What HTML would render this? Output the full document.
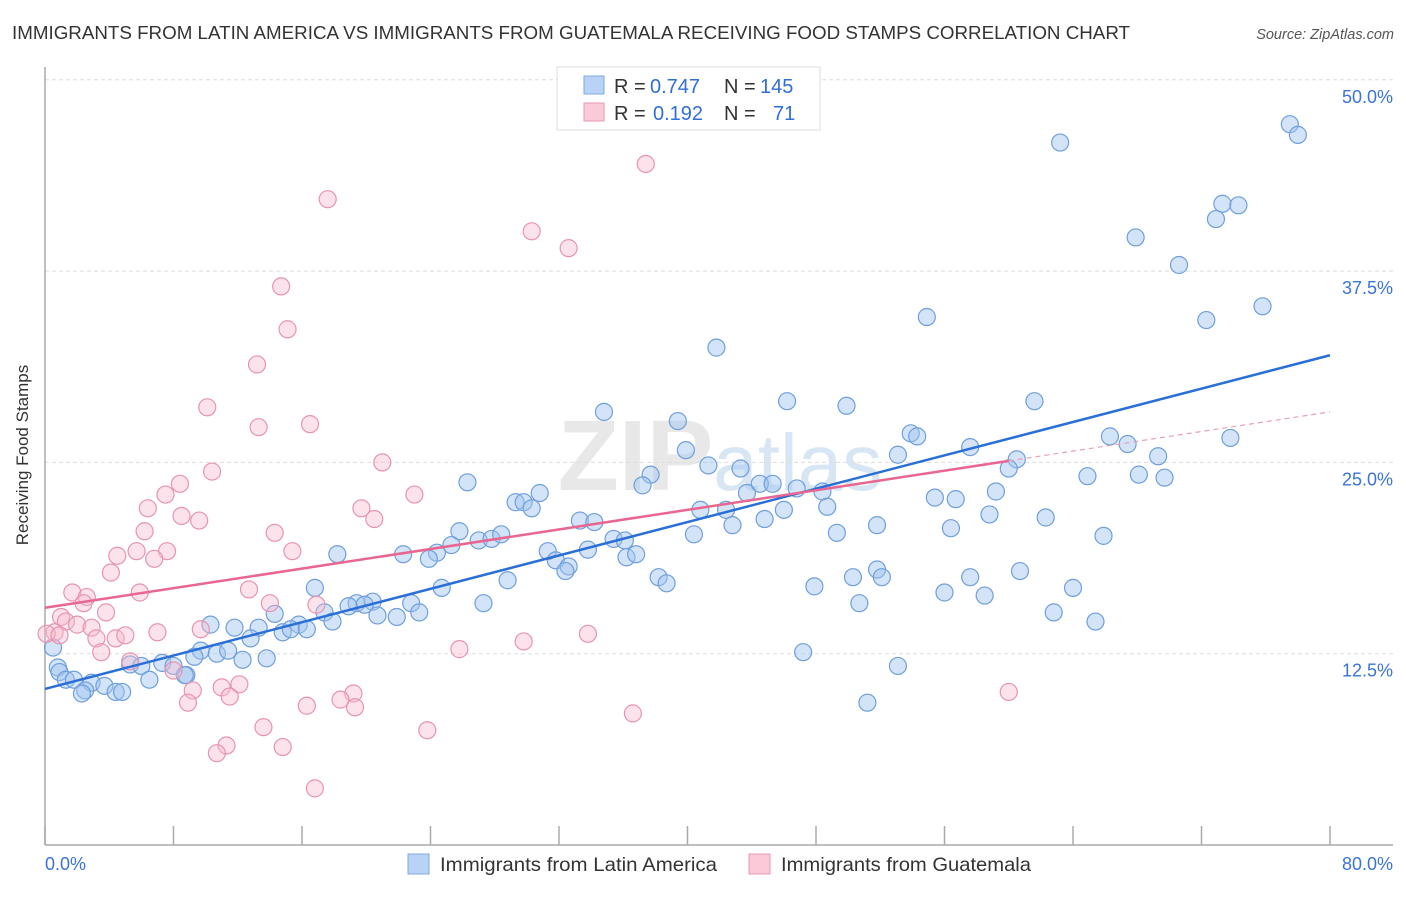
<!DOCTYPE html>
<html><head><meta charset="utf-8"><style>
body{margin:0;background:#fff;font-family:"Liberation Sans",sans-serif;}
svg text{font-family:"Liberation Sans",sans-serif;}
</style></head><body>
<svg id="c" width="1406" height="892">
<text x="12" y="39" font-size="18" fill="#333" textLength="1118" lengthAdjust="spacingAndGlyphs">IMMIGRANTS FROM LATIN AMERICA VS IMMIGRANTS FROM GUATEMALA RECEIVING FOOD STAMPS CORRELATION CHART</text>
<text x="1394" y="39" font-size="14.5" fill="#555" text-anchor="end" font-style="italic">Source: ZipAtlas.com</text>
<text x="28" y="455" font-size="17" fill="#333" text-anchor="middle" transform="rotate(-90 28 455)">Receiving Food Stamps</text>
<text x="720" y="490" font-size="100" fill="#e8e8e8" text-anchor="middle" font-weight="bold">ZIP<tspan font-weight="normal" font-size="80" fill="#d8e6f4">atlas</tspan></text>
<g id="grid"></g><g id="axes"></g><g id="pts"></g><g id="trend"></g>
<g>
<rect x="557" y="67" width="263" height="63" fill="#fff" stroke="#ddd"/>
<rect x="584" y="76" width="20" height="18" fill="#b8d3f5" stroke="#7fa9e0"/>
<rect x="584" y="103" width="20" height="18" fill="#fbc9d8" stroke="#e89ab3"/>
<text x="614" y="93" font-size="20" fill="#333">R = <tspan x="650" fill="#2f6fd6">0.747</tspan></text>
<text x="724" y="93" font-size="20" fill="#333">N = <tspan x="760" fill="#2f6fd6">145</tspan></text>
<text x="614" y="120" font-size="20" fill="#333">R = <tspan x="653" fill="#2f6fd6">0.192</tspan></text>
<text x="724" y="120" font-size="20" fill="#333">N = <tspan x="773" fill="#2f6fd6">71</tspan></text>
</g>
<g>
<rect x="408" y="854" width="21" height="20" fill="#b8d3f5" stroke="#7fa9e0"/>
<text x="440" y="871" font-size="19.5" fill="#333" textLength="277" lengthAdjust="spacingAndGlyphs">Immigrants from Latin America</text>
<rect x="749" y="854" width="21" height="20" fill="#fbc9d8" stroke="#e89ab3"/>
<text x="781" y="871" font-size="19.5" fill="#333" textLength="250" lengthAdjust="spacingAndGlyphs">Immigrants from Guatemala</text>
</g>
</svg>
<script>
const yTicks=[12.5,25,37.5,50];
const yTickLabels=["12.5%","25.0%","37.5%","50.0%"];
const xTickLabels=["0.0%","80.0%"];
const blueX=[63.2,77.5,78.0,67.9,73.3,74.3,72.9,70.6,54.9,72.3,75.8,41.8,34.8,46.2,49.9,61.6,39.4,39.9,53.9,54.3,57.6,66.3,67.4,73.8,69.3,41.3,43.3,53.1,60.5,60.0,64.9,68.1,69.7,37.7,37.2,26.3,30.8,29.3,29.8,30.3,44.5,45.3,46.8,48.4,43.7,55.4,56.7,59.2,40.8,42.4,46.0,48.7,44.8,42.8,33.3,34.2,25.8,58.8,62.3,51.8,40.4,49.3,56.4,65.9,24.4,25.3,27.0,27.8,28.4,22.3,23.9,35.4,36.1,33.8,31.3,31.8,32.6,32.4,36.2,36.8,18.2,51.8,52.1,50.3,38.2,38.7,28.8,24.7,57.6,60.7,47.9,56.0,58.5,64.0,16.8,27.3,50.7,62.8,65.4,19.4,20.4,18.9,19.9,20.7,21.9,22.8,23.3,17.4,17.9,14.3,15.8,16.3,14.8,15.3,10.3,11.8,13.3,12.8,47.2,53.1,9.7,10.7,11.4,9.3,12.3,13.8,5.3,7.3,6.0,8.0,8.8,6.5,0.5,0.8,0.9,1.3,1.8,2.9,3.7,2.5,4.4,4.8,2.3,51.2,8.7];
const blueY=[45.9,47.1,46.4,39.7,41.9,41.8,40.9,37.9,34.5,34.3,35.2,32.5,28.3,29.0,28.7,29.0,27.7,25.8,26.9,26.7,26.0,26.7,26.2,26.6,25.4,24.8,24.6,25.5,25.2,24.6,24.1,24.2,24.0,24.2,23.5,23.7,23.0,22.4,22.4,22.0,23.6,23.6,23.3,23.1,23.0,22.7,22.6,23.1,21.9,21.9,21.9,22.1,21.3,20.9,21.2,21.1,20.5,21.6,21.4,20.9,20.3,20.4,20.7,20.2,19.1,19.6,19.9,20.0,20.3,19.0,18.7,20.0,19.9,19.3,19.2,18.6,18.2,17.9,18.8,19.0,19.0,18.0,17.5,17.5,17.5,17.1,17.3,16.8,17.5,17.9,16.9,16.5,16.3,16.8,16.8,15.8,15.8,15.2,14.6,15.8,15.9,15.6,15.7,15.0,14.9,15.8,15.2,15.2,14.6,15.1,14.4,14.1,13.9,14.1,14.4,14.2,14.2,13.5,12.6,11.7,12.7,12.5,12.7,12.3,12.1,12.2,11.8,11.9,11.7,11.7,11.1,10.8,12.9,11.6,11.3,10.8,10.8,10.6,10.4,10.1,10.0,10.0,9.9,9.3,11.1];
const pinkX=[37.4,17.6,30.3,32.6,14.7,15.1,13.2,10.1,13.3,16.5,21.0,10.4,8.4,23.0,7.5,6.4,19.7,8.5,9.6,20.5,6.2,14.3,5.7,7.6,4.5,6.8,15.4,4.1,12.7,5.9,1.7,2.6,2.4,3.8,1.0,16.9,14.0,1.3,2.0,2.9,7.0,9.7,0.6,0.1,0.9,4.4,5.0,3.2,3.5,33.8,29.8,25.8,5.3,8.0,12.1,11.0,9.2,11.5,8.9,19.2,18.4,16.3,19.3,36.6,60.0,13.6,23.8,11.3,10.7,14.8,16.8];
const pinkY=[44.5,42.2,40.1,39.0,36.5,33.7,31.4,28.6,27.3,27.5,25.0,24.4,23.6,22.9,22.9,22.0,22.0,21.5,21.2,21.3,20.5,20.4,19.2,19.2,18.9,18.7,19.2,17.8,16.7,16.5,16.5,16.2,15.8,15.2,14.9,15.7,15.8,14.6,14.4,14.2,13.9,14.1,13.9,13.8,13.7,13.5,13.7,13.5,12.6,13.8,13.3,12.8,12.0,11.4,10.5,10.3,10.1,9.7,9.3,9.9,9.5,9.1,9.0,8.6,10.0,7.7,7.5,6.5,6.0,6.4,3.7];
const blueTrend=[10.2,32.0];
const pinkTrend=[15.5,28.3];
const pinkSolidEnd=60;

const NS="http://www.w3.org/2000/svg";
const X=v=>45+v*(1285/80);
const Y=v=>845-v*(191.3/12.5);
function mk(tag,attrs,parent){const e=document.createElementNS(NS,tag);for(const k in attrs)e.setAttribute(k,attrs[k]);document.getElementById(parent).appendChild(e);return e;}

yTicks.forEach((t,i)=>{
  const g=mk('line',{x1:45,x2:1393,y1:Y(t),y2:Y(t),stroke:'#ddd','stroke-dasharray':'4,3'},'grid');
  
  
  const tx=mk('text',{x:1393,y:Y(t)+23,'font-size':18,fill:'#3a74d6','text-anchor':'end'},'grid');
  tx.textContent=yTickLabels[i];
  
  
});
const ya=mk('line',{x1:45,x2:45,y1:67,y2:845,stroke:'#aaa','stroke-width':1.5},'axes');


const xa=mk('line',{x1:45,x2:1393,y1:845,y2:845,stroke:'#aaa','stroke-width':1.5},'axes');


for(let i=0;i<=10;i++){
  const tk=mk('line',{x1:X(i*8),x2:X(i*8),y1:826,y2:845,stroke:'#aaa','stroke-width':1.5},'axes');
  
  
}
[[0,'start',45],[1,'end',1393]].forEach(([i,a,x])=>{
  const t=mk('text',{x:x,y:870,'font-size':18,fill:'#3a74d6','text-anchor':a},'axes');
  t.textContent=xTickLabels[i];
  
  
});
blueX.forEach((v,i)=>{
  const c=mk('circle',{cx:X(v),cy:Y(blueY[i]),r:8.5,fill:'rgba(160,196,240,0.45)',stroke:'#6f9fdc','stroke-width':1.2},'pts');
  
  
});
pinkX.forEach((v,i)=>{
  const c=mk('circle',{cx:X(v),cy:Y(pinkY[i]),r:8.5,fill:'rgba(248,185,205,0.4)',stroke:'#e894b0','stroke-width':1.2},'pts');
  
  
});
const bl=mk('line',{x1:X(0),y1:Y(blueTrend[0]),x2:X(80),y2:Y(blueTrend[1]),stroke:'#2a6fd8','stroke-width':2.5},'trend');


const pAt=x=>pinkTrend[0]+(pinkTrend[1]-pinkTrend[0])*x/80;
const pl=mk('line',{x1:X(0),y1:Y(pAt(0)),x2:X(pinkSolidEnd),y2:Y(pAt(pinkSolidEnd)),stroke:'#e8668f','stroke-width':2.5},'trend');


const pd=mk('line',{x1:X(pinkSolidEnd),y1:Y(pAt(pinkSolidEnd)),x2:X(80),y2:Y(pAt(80)),stroke:'#e8a0b5','stroke-width':1.2,'stroke-dasharray':'5,4'},'trend');


</script>
</body></html>
